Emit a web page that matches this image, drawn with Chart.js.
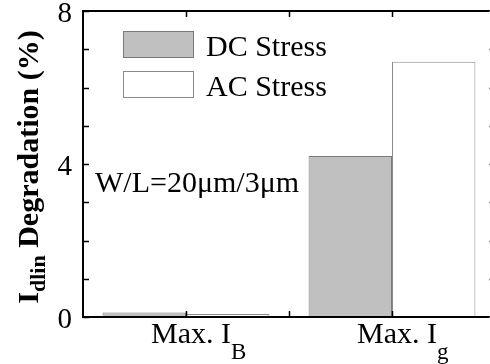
<!DOCTYPE html>
<html>
<head>
<meta charset="utf-8">
<script src="https://cdn.jsdelivr.net/npm/chart.js@4/dist/chart.umd.min.js"></script>
<style>
  html, body { margin: 0; padding: 0; background: #fff; overflow: hidden; }
  #wrap { width: 500px; height: 364px; }
</style>
</head>
<body>
<div id="wrap"><canvas id="chart" width="500" height="364"></canvas></div>
<script>
// Data
const categories = ['Max. I_B', 'Max. I_g'];
const dcStress = [0.12, 4.21];
const acStress = [0.08, 6.67];
const seriesNames = ['DC Stress', 'AC Stress'];
const yTickLabels = [0, 4, 8];
const yMinorTicks = [0, 1, 2, 3, 4, 5, 6, 7, 8];
const yTitle = ['I', 'dlin', ' Degradation (%)'];
const note = 'W/L=20\u03bcm/3\u03bcm';

const SERIF = '"Liberation Serif", "Times New Roman", serif';

// draw "main_sub" text with a lowered subscript
function drawSubText(ctx, text, x, y, size, subSize, drop, bold) {
    const parts = text.split('_');
    const w = bold ? 'bold ' : '';
    ctx.font = w + size + 'px ' + SERIF;
    ctx.fillText(parts[0], x, y);
    let dx = ctx.measureText(parts[0]).width;
    if (parts[1]) {
        ctx.font = w + subSize + 'px ' + SERIF;
        ctx.fillText(parts[1], x + dx, y + drop);
        dx += ctx.measureText(parts[1]).width;
    }
    return dx;
}

const framePlugin = {
    id: 'frame',
    afterDraw(chart) {
        const { ctx, chartArea: a, scales: { x, y } } = chart;
        ctx.save();
        ctx.fillStyle = '#000';
        ctx.strokeStyle = '#000';

        // box around plot
        ctx.lineWidth = 2;
        ctx.strokeRect(a.left, a.top, a.right - a.left, a.bottom - a.top);

        // y minor ticks, both sides, pointing in
        ctx.lineWidth = 1.5;
        yMinorTicks.forEach(v => {
            const py = Math.round(y.getPixelForValue(v)) + 0.5;
            ctx.strokeStyle = '#000';
            ctx.beginPath();
            ctx.moveTo(a.left, py); ctx.lineTo(a.left + 6, py);
            ctx.stroke();
            ctx.strokeStyle = '#888';
            ctx.beginPath();
            ctx.moveTo(a.right, py); ctx.lineTo(a.right - 6, py);
            ctx.stroke();
        });
        ctx.strokeStyle = '#000';

        // x ticks at category centres and boundaries
        const xt = [];
        categories.forEach((c, i) => { xt.push(i); if (i < categories.length - 1) xt.push(i + 0.5); });
        xt.forEach(v => {
            const px = Math.round(x.getPixelForValue(v)) + 0.5;
            ctx.beginPath();
            ctx.moveTo(px, a.bottom); ctx.lineTo(px, a.bottom - 6);
            ctx.moveTo(px, a.top); ctx.lineTo(px, a.top + 6);
            ctx.stroke();
        });

        // y tick labels
        ctx.font = '29px ' + SERIF;
        ctx.textAlign = 'right';
        ctx.textBaseline = 'middle';
        yTickLabels.forEach(v => {
            ctx.fillText(String(v), a.left - 11, y.getPixelForValue(v) + 3);
        });

        // x category labels
        ctx.textAlign = 'left';
        ctx.textBaseline = 'alphabetic';
        categories.forEach((c, i) => {
            drawSubText(ctx, c, x.getPixelForValue(i) - 35, 343, 30, 23, 16, false);
        });

        // y axis title
        ctx.save();
        ctx.translate(38, 167);
        ctx.rotate(-Math.PI / 2);
        ctx.font = 'bold 30px ' + SERIF;
        const w0 = ctx.measureText(yTitle[0]).width;
        const w2 = ctx.measureText(yTitle[2]).width;
        ctx.font = 'bold 22px ' + SERIF;
        const w1 = ctx.measureText(yTitle[1]).width;
        let sx = -(w0 + w1 + w2) / 2;
        ctx.font = 'bold 30px ' + SERIF;
        ctx.fillText(yTitle[0], sx, 0);
        ctx.font = 'bold 22px ' + SERIF;
        ctx.fillText(yTitle[1], sx + w0, 7);
        ctx.font = 'bold 30px ' + SERIF;
        ctx.fillText(yTitle[2], sx + w0 + w1, 0);
        ctx.restore();

        // legend
        const ds = chart.data.datasets;
        ds.forEach((d, i) => {
            const by = 31 + i * 40;
            ctx.fillStyle = d.backgroundColor;
            ctx.fillRect(123, by, 71, 27);
            ctx.strokeStyle = d.borderColor;
            ctx.lineWidth = 1;
            ctx.strokeRect(123.5, by + 0.5, 70, 26);
            ctx.fillStyle = '#000';
            ctx.font = '30px ' + SERIF;
            ctx.fillText(d.label, 206, by + 25);
        });

        // annotation
        ctx.font = '30px ' + SERIF;
        ctx.fillText(note, 95, 192);
        ctx.restore();
    }
};

new Chart(document.getElementById('chart'), {
    type: 'bar',
    data: {
        labels: categories,
        datasets: [
            {
                label: seriesNames[0],
                data: dcStress,
                backgroundColor: '#c0c0c0',
                borderColor: '#7a7a7a',
                borderWidth: 1,
                categoryPercentage: 0.81,
                barPercentage: 1
            },
            {
                label: seriesNames[1],
                data: acStress,
                backgroundColor: '#ffffff',
                borderColor: '#8a8a8a',
                borderWidth: 1,
                categoryPercentage: 0.81,
                barPercentage: 1
            }
        ]
    },
    options: {
        responsive: false,
        animation: false,
        layout: { padding: { left: 83, right: 5, top: 11, bottom: 47 } },
        plugins: {
            legend: { display: false },
            tooltip: { enabled: false }
        },
        scales: {
            x: { display: false, offset: true },
            y: { display: false, min: 0, max: 8 }
        }
    },
    plugins: [framePlugin]
});
</script>
</body>
</html>
